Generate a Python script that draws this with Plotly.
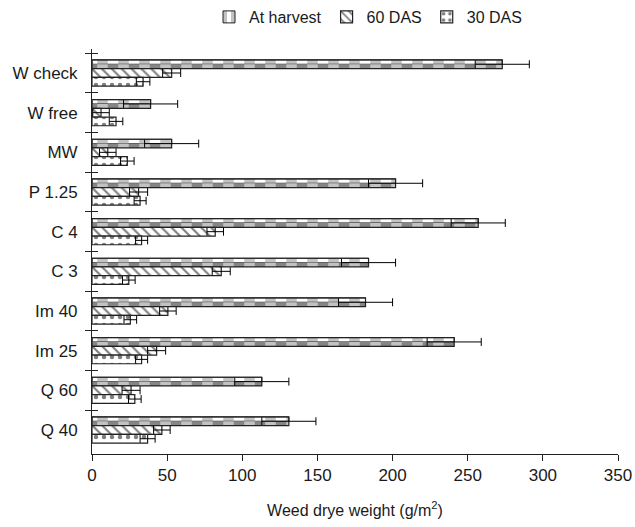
import plotly.graph_objects as go

categories = ["W check", "W free", "MW", "P 1.25", "C 4", "C 3", "Im 40", "Im 25", "Q 60", "Q 40"]
harvest = [273, 39, 53, 202, 257, 184, 182, 241, 113, 131]
harvest_err = [18, 18, 18, 18, 18, 18, 18, 18, 18, 18]
das60 = [53, 6, 10.5, 31, 82, 86, 50.5, 43, 26, 46.5]
das60_err = [6, 5.5, 5.5, 6, 5.5, 6, 5.5, 6, 6, 5.5]
das30 = [34, 16, 23.5, 32, 33, 24.5, 25.5, 33, 28.5, 37]
das30_err = [4.5, 4.5, 4.5, 4, 4, 4.2, 4.2, 4, 4.2, 5]

FONT = "Liberation Sans, Arial, sans-serif"
W = 0.22
GREY = "#858585"

fig = go.Figure()
err = dict(type="data", thickness=1, width=4, color="black")

# At harvest: checkerboard built from two half-height bars with inverted stripes
fig.add_trace(go.Bar(
    name="At harvest", x=harvest, y=categories, orientation="h",
    width=W / 2, offset=-1.5 * W,
    marker=dict(color="white", line=dict(width=1, color="#222"),
                pattern=dict(shape="|", fgcolor=GREY, bgcolor="white", size=21, solidity=0.5)),
    legendgroup="h", showlegend=True, hoverinfo="skip"))
fig.add_trace(go.Bar(
    name="At harvest", x=harvest, y=categories, orientation="h",
    width=W / 2, offset=-1.0 * W,
    marker=dict(color=GREY, line=dict(width=0),
                pattern=dict(shape="|", fgcolor="white", bgcolor=GREY, size=21, solidity=0.5)),
    legendgroup="h", showlegend=False, hoverinfo="skip"))
fig.add_trace(go.Bar(
    name="At harvest", x=harvest, y=categories, orientation="h",
    width=W, offset=-1.5 * W,
    marker=dict(color="rgba(0,0,0,0)", line=dict(width=1.2, color="#222")),
    error_x=dict(array=harvest_err, **err),
    legendgroup="h", showlegend=False))

fig.add_trace(go.Bar(
    name="60 DAS", x=das60, y=categories, orientation="h",
    width=W, offset=-0.5 * W,
    marker=dict(color="white", line=dict(width=1.2, color="#222"),
                pattern=dict(shape="\\", fgcolor="black", bgcolor="white", size=7, solidity=0.3)),
    error_x=dict(array=das60_err, **err)))

fig.add_trace(go.Bar(
    name="30 DAS", x=das30, y=categories, orientation="h",
    width=W, offset=0.5 * W,
    marker=dict(color="white", line=dict(width=1.2, color="#222"),
                pattern=dict(shape=".", fgcolor="black", bgcolor="white", size=8, solidity=0.25)),
    error_x=dict(array=das30_err, **err)))

# invisible trace to carry the inside half of the crossing category ticks
fig.add_trace(go.Scatter(x=[0] * len(categories), y=categories, yaxis="y2", mode="markers",
                         marker=dict(opacity=0), showlegend=False, hoverinfo="skip"))

fig.update_layout(
    width=635, height=527,
    margin=dict(l=92, r=17, t=49, b=73),
    barmode="overlay",
    plot_bgcolor="white", paper_bgcolor="white",
    font=dict(family=FONT, size=17, color="#1a1a1a"),
    legend=dict(orientation="h", x=368 / 635, xref="container", xanchor="center",
                y=1.0, yanchor="top", yref="container", font=dict(size=16), itemwidth=30,
                tracegroupgap=0, traceorder="normal"),
    xaxis=dict(range=[0, 350], dtick=50, showline=True, linecolor="#222", linewidth=1,
               ticks="outside", ticklen=6, tickcolor="#222", showgrid=False, zeroline=False,
               automargin=False,
               title=dict(text="Weed drye weight (g/m<sup>2</sup>)", font=dict(size=16), standoff=20)),
    yaxis=dict(type="category", categoryorder="array", categoryarray=categories,
               autorange="reversed", showline=True, linecolor="#222", linewidth=1,
               ticks="outside", ticklen=6, tickcolor="#222", tickson="boundaries",
               showgrid=False, ticklabelstandoff=10, automargin=False),
    yaxis2=dict(type="category", categoryorder="array", categoryarray=categories,
                overlaying="y", matches="y", side="left", ticks="inside", ticklen=6,
                tickcolor="#222", tickson="boundaries", showticklabels=False,
                showgrid=False, showline=False, automargin=False),
)
fig.write_html("out.html", config={"displayModeBar": False},
               post_script="document.body.style.margin='0';document.body.style.overflow='hidden';")
